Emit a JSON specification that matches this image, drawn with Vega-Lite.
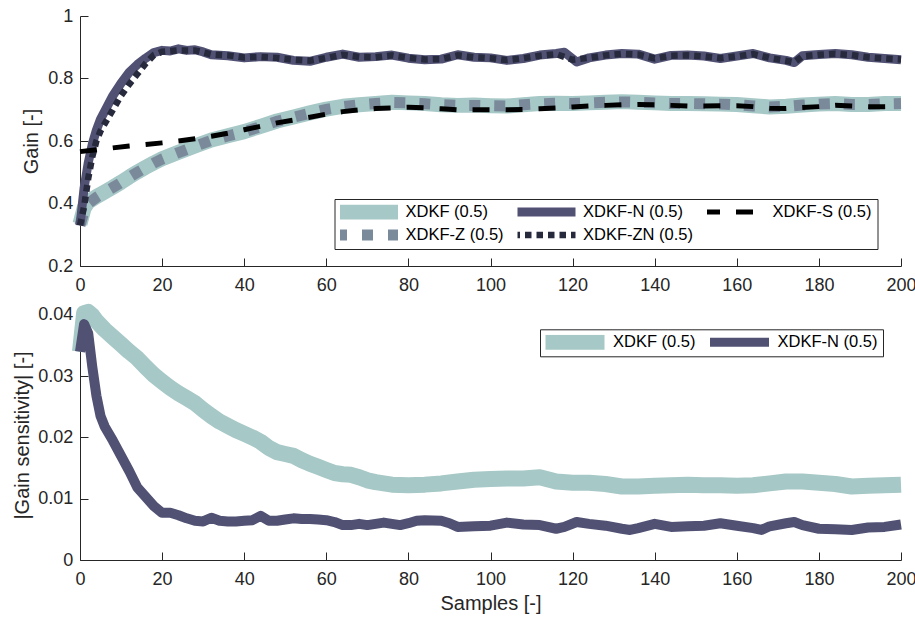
{
  "$schema": "https://vega.github.io/schema/vega-lite/v6.json",
  "background": "white",
  "padding": {"left": 11, "top": 7, "right": 5, "bottom": 5},
  "bounds": "flush",
  "spacing": 44,
  "config": {
    "view": {"stroke": null},
    "axis": {
      "grid": false,
      "domainColor": "#262626",
      "tickColor": "#262626",
      "labelColor": "#262626",
      "titleColor": "#262626",
      "labelFont": "Liberation Sans",
      "titleFont": "Liberation Sans",
      "labelFontSize": 18,
      "titleFontSize": 20,
      "titleFontWeight": "normal",
      "tickSize": -8,
      "domainWidth": 1,
      "tickWidth": 1
    },
    "axisX": {"labelPadding": 18.5, "labelFlush": false},
    "axisY": {"labelPadding": 15.3},
    "legend": {
      "title": null, "orient": "none", "symbolType": "stroke", "symbolSize": 3844, "symbolStrokeWidth": 0,
      "clipHeight": 15, "rowPadding": 6, "columnPadding": 13.5, "padding": 5.5, "symbolOffset": -7.5, "labelOffset": 4,
      "labelFontSize": 16.5, "labelFont": "Liberation Sans", "labelColor": "#000000",
      "strokeColor": "#262626", "fillColor": "#ffffff", "labelLimit": 0
    }
  },
  "datasets": {
    "t_xdkf": [
      {"x":0,"y":0.335},{"x":1,"y":0.385},{"x":2,"y":0.405},{"x":4,"y":0.422},{"x":6,"y":0.437},{"x":8,"y":0.452},{"x":10,"y":0.468},{"x":12,"y":0.485},{"x":14,"y":0.501},{"x":16,"y":0.516},{"x":18,"y":0.53},{"x":20,"y":0.543},{"x":24,"y":0.564},{"x":28,"y":0.584},{"x":32,"y":0.603},{"x":36,"y":0.617},{"x":40,"y":0.63},{"x":44,"y":0.647},{"x":48,"y":0.664},{"x":52,"y":0.677},{"x":56,"y":0.69},{"x":60,"y":0.702},{"x":64,"y":0.711},{"x":68,"y":0.716},{"x":72,"y":0.72},{"x":76,"y":0.724},{"x":80,"y":0.722},{"x":84,"y":0.72},{"x":88,"y":0.716},{"x":92,"y":0.714},{"x":96,"y":0.715},{"x":100,"y":0.713},{"x":104,"y":0.712},{"x":108,"y":0.716},{"x":112,"y":0.72},{"x":116,"y":0.721},{"x":120,"y":0.72},{"x":124,"y":0.722},{"x":128,"y":0.724},{"x":132,"y":0.726},{"x":136,"y":0.724},{"x":140,"y":0.722},{"x":144,"y":0.72},{"x":148,"y":0.72},{"x":152,"y":0.719},{"x":156,"y":0.718},{"x":160,"y":0.717},{"x":164,"y":0.713},{"x":168,"y":0.709},{"x":172,"y":0.711},{"x":176,"y":0.715},{"x":180,"y":0.718},{"x":184,"y":0.72},{"x":188,"y":0.717},{"x":192,"y":0.717},{"x":196,"y":0.72},{"x":200,"y":0.72}
    ],
    "t_z": [
      {"x":0,"y":0.33},{"x":1,"y":0.375},{"x":2,"y":0.4},{"x":4,"y":0.42},{"x":6,"y":0.436},{"x":8,"y":0.451},{"x":10,"y":0.467},{"x":12,"y":0.484},{"x":14,"y":0.5},{"x":16,"y":0.515},{"x":18,"y":0.529},{"x":20,"y":0.542},{"x":24,"y":0.563},{"x":28,"y":0.583},{"x":32,"y":0.602},{"x":36,"y":0.616},{"x":40,"y":0.629},{"x":44,"y":0.646},{"x":48,"y":0.663},{"x":52,"y":0.676},{"x":56,"y":0.689},{"x":60,"y":0.701},{"x":64,"y":0.71},{"x":68,"y":0.716},{"x":72,"y":0.72},{"x":76,"y":0.723},{"x":80,"y":0.722},{"x":84,"y":0.719},{"x":88,"y":0.716},{"x":92,"y":0.714},{"x":96,"y":0.714},{"x":100,"y":0.713},{"x":104,"y":0.712},{"x":108,"y":0.716},{"x":112,"y":0.719},{"x":116,"y":0.721},{"x":120,"y":0.72},{"x":124,"y":0.722},{"x":128,"y":0.724},{"x":132,"y":0.725},{"x":136,"y":0.724},{"x":140,"y":0.722},{"x":144,"y":0.72},{"x":148,"y":0.72},{"x":152,"y":0.719},{"x":156,"y":0.718},{"x":160,"y":0.716},{"x":164,"y":0.712},{"x":168,"y":0.709},{"x":172,"y":0.711},{"x":176,"y":0.715},{"x":180,"y":0.718},{"x":184,"y":0.72},{"x":188,"y":0.717},{"x":192,"y":0.717},{"x":196,"y":0.719},{"x":200,"y":0.72}
    ],
    "t_n": [
      {"x":0,"y":0.33},{"x":1,"y":0.45},{"x":2,"y":0.53},{"x":3,"y":0.59},{"x":4,"y":0.635},{"x":5,"y":0.67},{"x":6,"y":0.695},{"x":8,"y":0.745},{"x":10,"y":0.785},{"x":12,"y":0.82},{"x":14,"y":0.845},{"x":16,"y":0.865},{"x":18,"y":0.883},{"x":20,"y":0.89},{"x":22,"y":0.888},{"x":24,"y":0.895},{"x":26,"y":0.89},{"x":28,"y":0.892},{"x":30,"y":0.885},{"x":32,"y":0.876},{"x":36,"y":0.873},{"x":40,"y":0.866},{"x":44,"y":0.87},{"x":48,"y":0.868},{"x":52,"y":0.858},{"x":56,"y":0.855},{"x":60,"y":0.868},{"x":64,"y":0.878},{"x":68,"y":0.868},{"x":72,"y":0.87},{"x":76,"y":0.875},{"x":80,"y":0.865},{"x":84,"y":0.86},{"x":88,"y":0.862},{"x":92,"y":0.876},{"x":96,"y":0.868},{"x":100,"y":0.866},{"x":104,"y":0.858},{"x":108,"y":0.864},{"x":112,"y":0.875},{"x":116,"y":0.88},{"x":118,"y":0.884},{"x":121,"y":0.853},{"x":124,"y":0.866},{"x":128,"y":0.875},{"x":132,"y":0.88},{"x":136,"y":0.878},{"x":140,"y":0.862},{"x":144,"y":0.874},{"x":148,"y":0.875},{"x":152,"y":0.872},{"x":156,"y":0.864},{"x":160,"y":0.872},{"x":164,"y":0.88},{"x":168,"y":0.866},{"x":172,"y":0.858},{"x":174,"y":0.851},{"x":176,"y":0.873},{"x":180,"y":0.877},{"x":184,"y":0.88},{"x":188,"y":0.876},{"x":192,"y":0.868},{"x":196,"y":0.864},{"x":200,"y":0.86}
    ],
    "t_zn": [
      {"x":0,"y":0.33},{"x":1,"y":0.39},{"x":2,"y":0.48},{"x":3,"y":0.55},{"x":4,"y":0.6},{"x":5,"y":0.632},{"x":6,"y":0.655},{"x":8,"y":0.7},{"x":10,"y":0.745},{"x":12,"y":0.782},{"x":14,"y":0.815},{"x":16,"y":0.848},{"x":18,"y":0.875},{"x":20,"y":0.886},{"x":24,"y":0.89},{"x":28,"y":0.89},{"x":32,"y":0.877},{"x":36,"y":0.874},{"x":40,"y":0.867},{"x":44,"y":0.869},{"x":48,"y":0.866},{"x":52,"y":0.86},{"x":56,"y":0.857},{"x":60,"y":0.866},{"x":64,"y":0.876},{"x":68,"y":0.869},{"x":72,"y":0.868},{"x":76,"y":0.874},{"x":80,"y":0.866},{"x":84,"y":0.861},{"x":88,"y":0.862},{"x":92,"y":0.874},{"x":96,"y":0.868},{"x":100,"y":0.865},{"x":104,"y":0.859},{"x":108,"y":0.865},{"x":112,"y":0.873},{"x":116,"y":0.878},{"x":120,"y":0.86},{"x":124,"y":0.866},{"x":128,"y":0.874},{"x":132,"y":0.879},{"x":136,"y":0.877},{"x":140,"y":0.864},{"x":144,"y":0.873},{"x":148,"y":0.874},{"x":152,"y":0.871},{"x":156,"y":0.865},{"x":160,"y":0.871},{"x":164,"y":0.878},{"x":168,"y":0.866},{"x":172,"y":0.857},{"x":174,"y":0.852},{"x":176,"y":0.871},{"x":180,"y":0.876},{"x":184,"y":0.879},{"x":188,"y":0.875},{"x":192,"y":0.868},{"x":196,"y":0.864},{"x":200,"y":0.861}
    ],
    "t_s": [
      {"x":0,"y":0.566},{"x":4,"y":0.572},{"x":8,"y":0.578},{"x":12,"y":0.584},{"x":16,"y":0.589},{"x":20,"y":0.594},{"x":24,"y":0.6},{"x":28,"y":0.607},{"x":32,"y":0.615},{"x":36,"y":0.625},{"x":40,"y":0.636},{"x":44,"y":0.647},{"x":48,"y":0.658},{"x":52,"y":0.667},{"x":56,"y":0.676},{"x":60,"y":0.686},{"x":64,"y":0.694},{"x":68,"y":0.7},{"x":72,"y":0.704},{"x":76,"y":0.706},{"x":80,"y":0.708},{"x":84,"y":0.706},{"x":88,"y":0.703},{"x":92,"y":0.7},{"x":96,"y":0.7},{"x":100,"y":0.7},{"x":104,"y":0.7},{"x":108,"y":0.701},{"x":112,"y":0.703},{"x":116,"y":0.706},{"x":120,"y":0.709},{"x":124,"y":0.712},{"x":128,"y":0.714},{"x":132,"y":0.716},{"x":136,"y":0.717},{"x":140,"y":0.716},{"x":144,"y":0.714},{"x":148,"y":0.712},{"x":152,"y":0.712},{"x":156,"y":0.713},{"x":160,"y":0.713},{"x":164,"y":0.71},{"x":168,"y":0.705},{"x":172,"y":0.704},{"x":176,"y":0.707},{"x":180,"y":0.71},{"x":184,"y":0.714},{"x":188,"y":0.712},{"x":192,"y":0.71},{"x":196,"y":0.71},{"x":200,"y":0.711}
    ],
    "b_xdkf": [
      {"x":0,"y":0.034},{"x":1,"y":0.0403},{"x":2,"y":0.0405},{"x":3,"y":0.0399},{"x":4,"y":0.039},{"x":6,"y":0.0376},{"x":8,"y":0.0364},{"x":10,"y":0.0352},{"x":12,"y":0.034},{"x":14,"y":0.0329},{"x":16,"y":0.0315},{"x":18,"y":0.0302},{"x":20,"y":0.0291},{"x":22,"y":0.0281},{"x":24,"y":0.0272},{"x":26,"y":0.0264},{"x":28,"y":0.0256},{"x":30,"y":0.0245},{"x":32,"y":0.0235},{"x":34,"y":0.0226},{"x":36,"y":0.0219},{"x":38,"y":0.0212},{"x":40,"y":0.0206},{"x":42,"y":0.02},{"x":44,"y":0.0193},{"x":46,"y":0.0183},{"x":48,"y":0.0176},{"x":50,"y":0.0173},{"x":52,"y":0.017},{"x":54,"y":0.0163},{"x":56,"y":0.0157},{"x":58,"y":0.0152},{"x":60,"y":0.0147},{"x":62,"y":0.0142},{"x":64,"y":0.014},{"x":66,"y":0.0139},{"x":68,"y":0.0135},{"x":70,"y":0.013},{"x":72,"y":0.0127},{"x":76,"y":0.0123},{"x":80,"y":0.0122},{"x":84,"y":0.0123},{"x":88,"y":0.0125},{"x":92,"y":0.0128},{"x":96,"y":0.0131},{"x":100,"y":0.0132},{"x":104,"y":0.0133},{"x":108,"y":0.0133},{"x":112,"y":0.0135},{"x":116,"y":0.0128},{"x":120,"y":0.0126},{"x":124,"y":0.0126},{"x":128,"y":0.0124},{"x":132,"y":0.012},{"x":136,"y":0.012},{"x":140,"y":0.0121},{"x":144,"y":0.0122},{"x":148,"y":0.0123},{"x":152,"y":0.0122},{"x":156,"y":0.0122},{"x":160,"y":0.0121},{"x":164,"y":0.0122},{"x":168,"y":0.0125},{"x":172,"y":0.0128},{"x":176,"y":0.0128},{"x":180,"y":0.0126},{"x":184,"y":0.0124},{"x":188,"y":0.012},{"x":192,"y":0.0121},{"x":196,"y":0.0122},{"x":200,"y":0.0123}
    ],
    "b_n": [
      {"x":0,"y":0.034},{"x":1,"y":0.0385},{"x":2,"y":0.037},{"x":3,"y":0.0315},{"x":4,"y":0.0268},{"x":5,"y":0.0235},{"x":6,"y":0.0218},{"x":8,"y":0.0195},{"x":10,"y":0.017},{"x":12,"y":0.0145},{"x":14,"y":0.0118},{"x":16,"y":0.0103},{"x":18,"y":0.0088},{"x":20,"y":0.0077},{"x":22,"y":0.0077},{"x":24,"y":0.0073},{"x":26,"y":0.0068},{"x":28,"y":0.0064},{"x":30,"y":0.0063},{"x":32,"y":0.0069},{"x":34,"y":0.0064},{"x":36,"y":0.0063},{"x":38,"y":0.0063},{"x":40,"y":0.0064},{"x":42,"y":0.0065},{"x":44,"y":0.0072},{"x":46,"y":0.0064},{"x":48,"y":0.0064},{"x":50,"y":0.0066},{"x":52,"y":0.0068},{"x":54,"y":0.0067},{"x":56,"y":0.0067},{"x":58,"y":0.0066},{"x":60,"y":0.0065},{"x":62,"y":0.0062},{"x":64,"y":0.0057},{"x":66,"y":0.0057},{"x":68,"y":0.0059},{"x":70,"y":0.0057},{"x":72,"y":0.0059},{"x":74,"y":0.0061},{"x":76,"y":0.0059},{"x":78,"y":0.0057},{"x":80,"y":0.006},{"x":82,"y":0.0064},{"x":84,"y":0.0065},{"x":88,"y":0.0064},{"x":90,"y":0.006},{"x":92,"y":0.0054},{"x":96,"y":0.0055},{"x":100,"y":0.0056},{"x":104,"y":0.0061},{"x":108,"y":0.0058},{"x":112,"y":0.0057},{"x":116,"y":0.0051},{"x":118,"y":0.0054},{"x":121,"y":0.0062},{"x":124,"y":0.0059},{"x":128,"y":0.0056},{"x":132,"y":0.0051},{"x":134,"y":0.0049},{"x":136,"y":0.0052},{"x":140,"y":0.0059},{"x":144,"y":0.0054},{"x":148,"y":0.0055},{"x":152,"y":0.0056},{"x":156,"y":0.006},{"x":160,"y":0.0056},{"x":164,"y":0.0052},{"x":166,"y":0.0049},{"x":168,"y":0.0055},{"x":172,"y":0.006},{"x":174,"y":0.0062},{"x":176,"y":0.0057},{"x":180,"y":0.0051},{"x":184,"y":0.005},{"x":188,"y":0.0049},{"x":192,"y":0.0053},{"x":196,"y":0.0054},{"x":200,"y":0.0058}
    ]
  },
  "resolve": {"scale": {"color": "independent"}, "legend": {"color": "independent"}},
  "vconcat": [
    {
      "width": 821,
      "height": 250,
      "encoding": {
        "x": {"field": "x", "type": "quantitative", "scale": {"domain": [0, 200], "nice": false, "zero": false},
              "axis": {"values": [0,20,40,60,80,100,120,140,160,180,200], "title": null}},
        "y": {"field": "y", "type": "quantitative", "scale": {"domain": [0.2, 1], "nice": false, "zero": false},
              "axis": {"values": [0.2,0.4,0.6,0.8,1], "format": "~g", "title": "Gain [-]", "titleX": -49, "titleBaseline": "middle"}}
      },
      "layer": [
        {"data": {"name": "t_xdkf"}, "mark": {"type": "line", "strokeWidth": 15, "strokeJoin": "round"},
         "encoding": {"color": {"datum": "XDKF (0.5)", "type": "nominal",
           "scale": {"domain": ["XDKF (0.5)", "XDKF-Z (0.5)", "XDKF-N (0.5)", "XDKF-ZN (0.5)", "XDKF-S (0.5)"], "range": ["#a6c8c6", "#7b8a9b", "#515174", "#272a3c", "#000000"]},
           "legend": {"legendX": 254.5, "legendY": 183, "columns": 3,
             "encode": {"symbols": {"update": {
               "strokeWidth": {"signal": "(datum.value === 'XDKF (0.5)' ? 15 : datum.value === 'XDKF-N (0.5)' ? 9 : datum.value === 'XDKF-S (0.5)' ? 5 : datum.value === 'XDKF-Z (0.5)' ? 11 : 6.5)"},
               "strokeDash": {"signal": "(datum.value === 'XDKF-Z (0.5)' ? [11, 15] : datum.value === 'XDKF-ZN (0.5)' ? [6.5, 5] : datum.value === 'XDKF-S (0.5)' ? [17, 16] : [1, 0])"}
             }}}}}}},
        {"data": {"name": "t_z"}, "mark": {"type": "line", "strokeWidth": 11, "strokeDash": [11, 14]},
         "encoding": {"color": {"datum": "XDKF-Z (0.5)", "type": "nominal",
           "scale": {"domain": ["XDKF (0.5)", "XDKF-Z (0.5)", "XDKF-N (0.5)", "XDKF-ZN (0.5)", "XDKF-S (0.5)"], "range": ["#a6c8c6", "#7b8a9b", "#515174", "#272a3c", "#000000"]}}}},
        {"data": {"name": "t_n"}, "mark": {"type": "line", "strokeWidth": 9, "strokeJoin": "round"},
         "encoding": {"color": {"datum": "XDKF-N (0.5)", "type": "nominal",
           "scale": {"domain": ["XDKF (0.5)", "XDKF-Z (0.5)", "XDKF-N (0.5)", "XDKF-ZN (0.5)", "XDKF-S (0.5)"], "range": ["#a6c8c6", "#7b8a9b", "#515174", "#272a3c", "#000000"]}}}},
        {"data": {"name": "t_zn"}, "mark": {"type": "line", "strokeWidth": 6.5, "strokeDash": [6.5, 5]},
         "encoding": {"color": {"datum": "XDKF-ZN (0.5)", "type": "nominal",
           "scale": {"domain": ["XDKF (0.5)", "XDKF-Z (0.5)", "XDKF-N (0.5)", "XDKF-ZN (0.5)", "XDKF-S (0.5)"], "range": ["#a6c8c6", "#7b8a9b", "#515174", "#272a3c", "#000000"]}}}},
        {"data": {"name": "t_s"}, "mark": {"type": "line", "strokeWidth": 5, "strokeDash": [17, 16]},
         "encoding": {"color": {"datum": "XDKF-S (0.5)", "type": "nominal",
           "scale": {"domain": ["XDKF (0.5)", "XDKF-Z (0.5)", "XDKF-N (0.5)", "XDKF-ZN (0.5)", "XDKF-S (0.5)"], "range": ["#a6c8c6", "#7b8a9b", "#515174", "#272a3c", "#000000"]}}}}
      ]
    },
    {
      "width": 821,
      "height": 250,
      "encoding": {
        "x": {"field": "x", "type": "quantitative", "scale": {"domain": [0, 200], "nice": false, "zero": false},
              "axis": {"values": [0,20,40,60,80,100,120,140,160,180,200], "title": "Samples [-]", "titleY": 43, "titleBaseline": "middle"}},
        "y": {"field": "y", "type": "quantitative", "scale": {"domain": [0, 0.0408], "nice": false, "zero": false},
              "axis": {"values": [0,0.01,0.02,0.03,0.04], "format": "~g", "title": "|Gain sensitivity| [-]", "titleX": -58, "titleBaseline": "middle"}}
      },
      "layer": [
        {"data": {"name": "b_xdkf"}, "mark": {"type": "line", "strokeWidth": 16, "strokeJoin": "round"},
         "encoding": {"color": {"datum": "XDKF (0.5)", "type": "nominal",
           "scale": {"domain": ["XDKF (0.5)", "XDKF-N (0.5)"], "range": ["#a6c8c6", "#515174"]},
           "legend": {"legendX": 460, "legendY": 19.3, "columns": 2,
             "encode": {"symbols": {"update": {
               "strokeWidth": {"signal": "(datum.value === 'XDKF (0.5)' ? 15 : 9)"}
             }}}}}}},
        {"data": {"name": "b_n"}, "mark": {"type": "line", "strokeWidth": 10, "strokeJoin": "round"},
         "encoding": {"color": {"datum": "XDKF-N (0.5)", "type": "nominal",
           "scale": {"domain": ["XDKF (0.5)", "XDKF-N (0.5)"], "range": ["#a6c8c6", "#515174"]}}}}
      ]
    }
  ]
}
